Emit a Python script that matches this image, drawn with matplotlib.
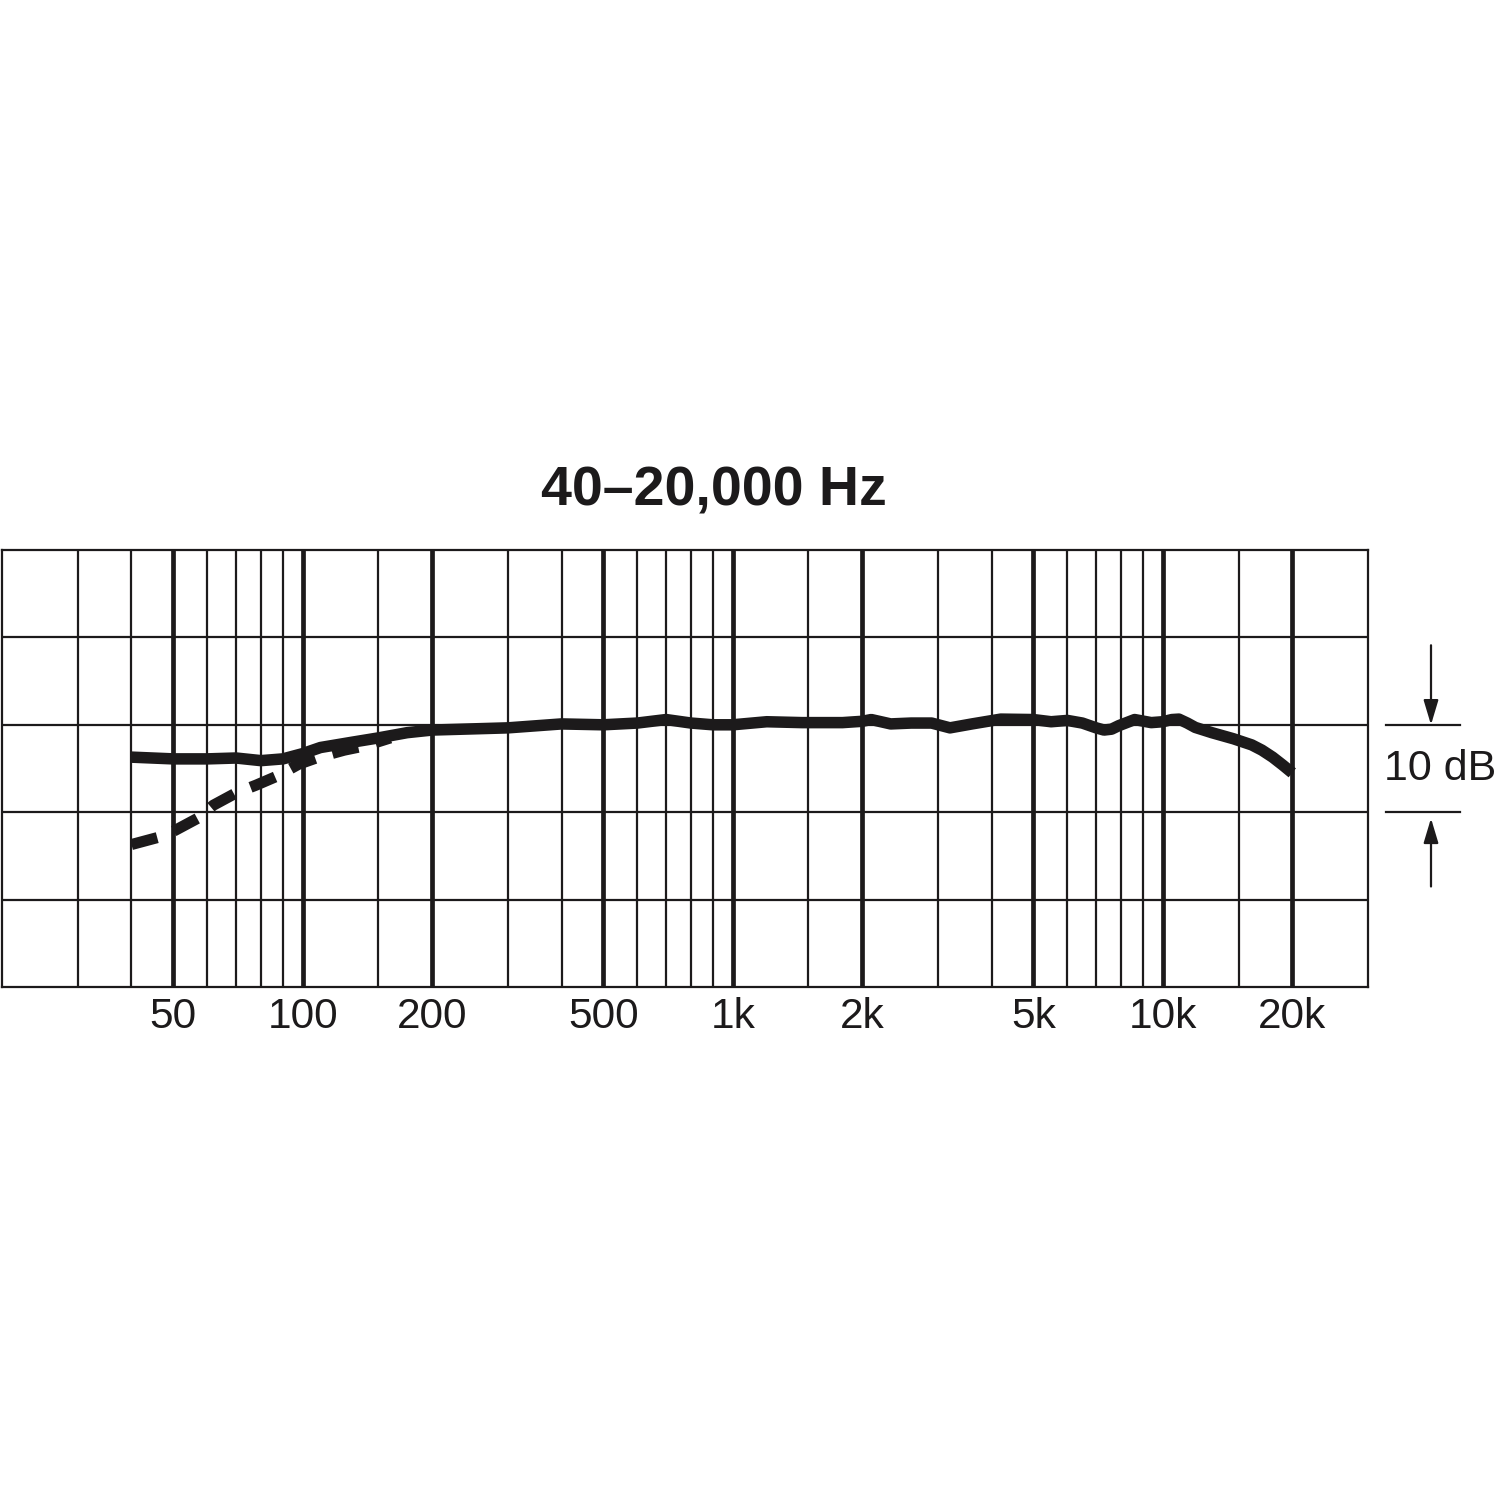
import matplotlib
matplotlib.use('Agg')
import matplotlib.pyplot as plt
from matplotlib.transforms import blended_transform_factory

plt.rcParams['font.family'] = ['Liberation Sans', 'DejaVu Sans']

INK = '#1c1a1b'

# frequency response, solid curve (Hz, dB)
freq = [40, 50, 60, 70, 80, 90, 100, 110, 130, 150, 175, 200, 300, 400, 500,
        600, 700, 800, 900, 1000, 1200, 1450, 1800, 2000, 2100, 2330, 2600,
        2900, 3200, 3600, 4200, 5000, 5500, 6000, 6500, 7000, 7300, 7600,
        7900, 8600, 9400, 10000, 10500, 10900, 11400, 11900, 13000, 14600,
        16100, 17000, 18000, 19000, 20000]
resp = [-3.7, -3.9, -3.9, -3.8, -4.1, -3.9, -3.3, -2.6, -2.0, -1.5, -0.9, -0.6,
        -0.35, 0.1, 0.0, 0.2, 0.6, 0.2, 0.0, 0.0, 0.35, 0.25, 0.25, 0.4, 0.6,
        0.1, 0.2, 0.2, -0.35, 0.1, 0.65, 0.6, 0.35, 0.5, 0.2, -0.35, -0.6,
        -0.5, -0.1, 0.6, 0.25, 0.35, 0.6, 0.65, 0.2, -0.3, -0.9, -1.6, -2.3,
        -2.9, -3.7, -4.6, -5.5]

# low cut curve, dashed
lc_freq = [40, 46, 50, 57, 62, 70, 78, 87, 98, 109, 125, 140, 160]
lc_resp = [-13.7, -12.9, -12.2, -10.7, -9.2, -7.8, -6.9, -5.9, -4.5, -3.7,
           -2.9, -2.4, -1.5]

major_f = [50, 100, 200, 500, 1000, 2000, 5000, 10000, 20000]
major_lbl = ['50', '100', '200', '500', '1k', '2k', '5k', '10k', '20k']
minor_f = [30, 40, 60, 70, 80, 90, 150, 300, 400, 600, 700, 800, 900, 1500,
           3000, 4000, 6000, 7000, 8000, 9000, 15000]
db_lines = [-20, -10, 0, 10]

W = 1497
fig = plt.figure(figsize=(14.97, 14.97), dpi=100)
ax = fig.add_axes([2 / W, 1 - 987 / W, 1366 / W, 437 / W])
ax.set_xscale('log')
ax.set_xlim(20, 30000)
ax.set_ylim(-30, 20)

for f in minor_f:
    ax.axvline(f, color=INK, lw=1.6, zorder=1)
for f in major_f:
    ax.axvline(f, color=INK, lw=3.4, zorder=1)
for d in db_lines:
    ax.axhline(d, color=INK, lw=1.6, zorder=1)

ax.plot(lc_freq, lc_resp, color=INK, lw=8.0, linestyle=(0, (2.4, 1.6)),
        dash_capstyle='butt', zorder=3)
ax.plot(freq, resp, color=INK, lw=8.3, solid_capstyle='butt',
        solid_joinstyle='round', zorder=4)

for s in ax.spines.values():
    s.set_linewidth(1.6)
    s.set_color(INK)

ax.set_xticks(major_f)
ax.set_xticklabels(major_lbl, fontsize=30.5, color=INK)
ax.set_xticks([], minor=True)
ax.tick_params(axis='x', length=0, pad=7)
ax.set_yticks([])

fig.text(714 / W, 1 - 506 / W, '40\u201320,000 Hz', fontsize=40,
         fontweight='bold', ha='center', va='baseline', color=INK)

# 10 dB scale marker on the right
tr = blended_transform_factory(fig.transFigure, ax.transData)
for d in [0, -10]:
    ax.plot([1386 / W, 1460 / W], [d, d], color=INK, lw=1.6,
            transform=tr, clip_on=False)
arrow = dict(arrowstyle='-|>,head_length=1.0,head_width=0.3', color=INK,
             lw=1.6, mutation_scale=15, shrinkA=0, shrinkB=0)
ax.annotate('', xy=(1431 / W, 0), xytext=(1431 / W, 9.1), xycoords=tr,
            textcoords=tr, arrowprops=arrow, annotation_clip=False)
ax.annotate('', xy=(1431 / W, -10.7), xytext=(1431 / W, -18.5), xycoords=tr,
            textcoords=tr, arrowprops=arrow, annotation_clip=False)
ax.text(1440 / W, -5, '10 dB', transform=tr, fontsize=31, ha='center',
        va='center', color=INK, clip_on=False)

fig.savefig('out.png', dpi=100, facecolor='white')
